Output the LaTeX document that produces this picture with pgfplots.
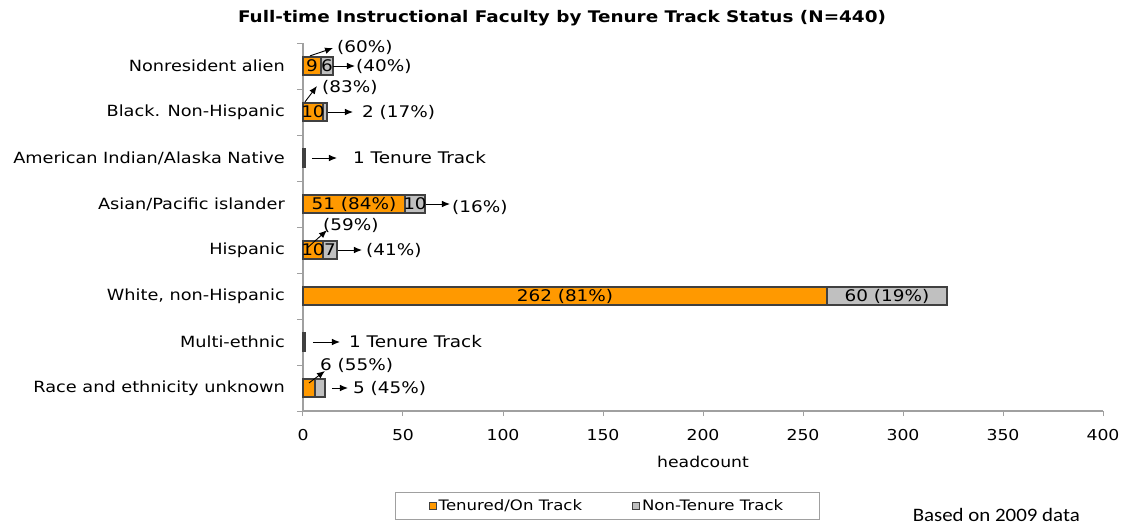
\documentclass[border=0pt]{standalone}
\usepackage{fontspec}
\setmainfont{DejaVu Sans}[FakeStretch=1.15]
\newfontfamily\notefont{Carlito}[FakeStretch=1.1]
\usepackage{pgfplots}
\pgfplotsset{compat=1.18}
\usetikzlibrary{arrows.meta}
\definecolor{tenured}{RGB}{255,153,0}
\definecolor{nontenure}{RGB}{192,192,192}
\definecolor{barline}{RGB}{64,64,64}
\definecolor{axisgray}{RGB}{160,160,160}
\newcommand{\lbl}{\fontsize{15}{18}\selectfont}
\newcommand{\cat}{\fontsize{15.4}{18}\selectfont}
\newcommand{\ann}{\fontsize{16}{19}\selectfont}
\tikzset{ann/.style={-{Latex[length=8pt,width=6.5pt]}, line width=0.9pt, black},
  anntxt/.style={anchor=west, inner sep=0pt, font=\ann},
  inbar/.style={inner sep=0pt, font=\ann}}

\begin{document}
\begin{tikzpicture}[x=1pt,y=1pt]
\path[use as bounding box] (-303,-114) rectangle (818,411);
\begin{axis}[
  clip=false,
  at={(0,0)}, anchor=south west,
  width=800pt, height=368pt, scale only axis,
  xbar stacked, bar width=18pt,
  xmin=0, xmax=400, ymin=-0.5, ymax=7.5,
  axis x line*=bottom, axis y line*=left,
  axis line style={axisgray, line width=1.2pt},
  tick align=outside, major tick length=5pt, minor tick length=6pt,
  tick style={axisgray, line width=1pt},
  xtick={0,50,...,400},
  ytick={0,...,7},
  minor ytick={-0.5,0.5,...,7.5},
  major y tick style={draw=none},
  yticklabels={Race and ethnicity unknown, Multi-ethnic, {White, non-Hispanic}, Hispanic,
    Asian/Pacific islander, American Indian/Alaska Native, Black. Non-Hispanic, Nonresident alien},
  /pgf/number format/assume math mode=true,
  xticklabel style={font=\lbl, anchor=center, yshift=-19pt},
  yticklabel style={font=\cat, anchor=east, inner sep=0pt, xshift=-13pt},
  xlabel={headcount},
  xlabel style={font=\lbl, at={(axis description cs:0.5,0)}, anchor=center, yshift=-51pt},
  legend style={at={(0.38,-0.257)}, anchor=center, legend columns=2, draw=axisgray,
    font=\fontsize{14.4}{17}\selectfont, inner xsep=34pt, inner ysep=5.5pt,
    /tikz/every even column/.append style={column sep=48pt}},
  legend image code/.code={\draw[#1, line width=1pt] (0pt,-3.5pt) rectangle (7pt,3.5pt);},
  every axis plot/.append style={draw=barline, line width=1.3pt},
  after end axis/.code={
    % labels inside bars
    \node[inbar] at (axis cs:4.5,7) {9};
    \node[inbar] at (axis cs:12,7) {6};
    \node[inbar] at (axis cs:5,6) {10};
    \node[inbar] at (axis cs:25.5,4) {51 (84\%)};
    \node[inbar] at (axis cs:56,4) {10};
    \node[inbar] at (axis cs:5,3) {10};
    \node[inbar] at (axis cs:13.5,3) {7};
    \node[inbar] at (axis cs:131,2) {262 (81\%)};
    \node[inbar] at (axis cs:292,2) {60 (19\%)};
    % callouts
    \draw[ann] (axis cs:3.5,7.22) -- (axis cs:15,7.39);
    \node[anntxt] at (axis cs:17,7.41) {(60\%)};
    \draw[ann] (axis cs:15,7) -- (axis cs:26,7);
    \node[anntxt] at (axis cs:26.5,7) {(40\%)};
    \draw[ann] (axis cs:1,6.22) -- (axis cs:7,6.565);
    \node[anntxt] at (axis cs:9.5,6.54) {(83\%)};
    \draw[ann] (axis cs:12.5,6) -- (axis cs:25,6);
    \node[anntxt] at (axis cs:29.5,6) {2 (17\%)};
    \draw[ann] (axis cs:4.5,5) -- (axis cs:17,5);
    \node[anntxt] at (axis cs:25,5) {1 Tenure Track};
    \draw[ann] (axis cs:61.5,4) -- (axis cs:73.5,4);
    \node[anntxt] at (axis cs:74.5,3.93) {(16\%)};
    \draw[ann] (axis cs:2,3.04) -- (axis cs:12,3.43);
    \node[anntxt] at (axis cs:10,3.54) {(59\%)};
    \draw[ann] (axis cs:17.5,3) -- (axis cs:29.5,3);
    \node[anntxt] at (axis cs:31.5,3) {(41\%)};
    \draw[ann] (axis cs:5,1) -- (axis cs:18.5,1);
    \node[anntxt] at (axis cs:23,1) {1 Tenure Track};
    \draw[ann] (axis cs:3,0.11) -- (axis cs:11,0.37);
    \node[anntxt] at (axis cs:8.5,0.5) {6 (55\%)};
    \draw[ann] (axis cs:14.5,0) -- (axis cs:22.5,0);
    \node[anntxt] at (axis cs:25,0) {5 (45\%)};
  },
]
\addplot[fill=tenured] coordinates {(6,0) (1,1) (262,2) (10,3) (51,4) (1,5) (10,6) (9,7)};
\addplot[fill=nontenure] coordinates {(5,0) (0,1) (60,2) (7,3) (10,4) (0,5) (2,6) (6,7)};
\addlegendentry{Tenured/On Track}
\addlegendentry{Non-Tenure Track}
\end{axis}
\node[font=\bfseries\fontsize{16}{19}\selectfont] at (259,393) {Full-time Instructional Faculty by Tenure Track Status (N=440)};
\node[anchor=east, inner sep=0pt, font=\notefont\fontsize{19}{22}\selectfont] at (777,-104) {Based on 2009 data};
\end{tikzpicture}
\end{document}
